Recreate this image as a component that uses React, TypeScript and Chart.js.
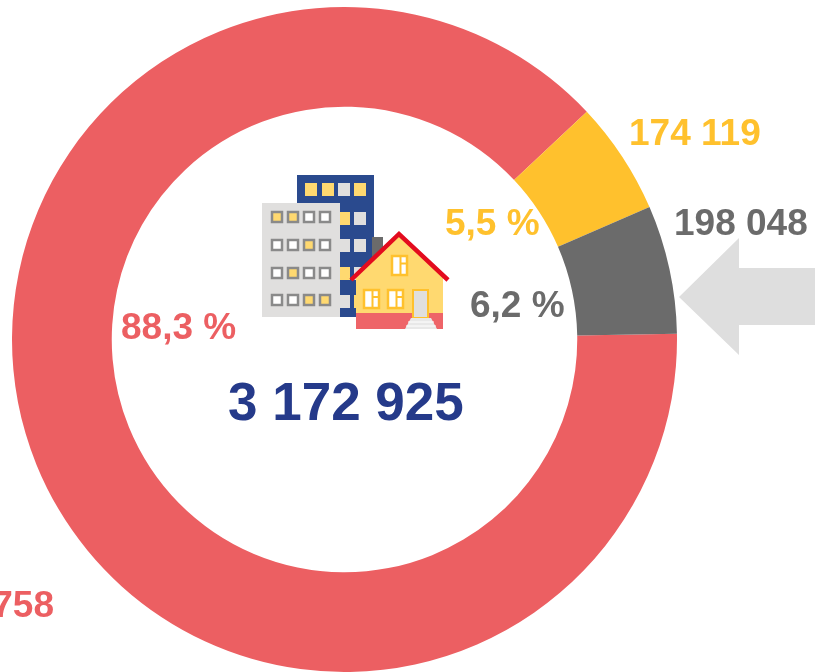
import React, { useEffect, useRef } from "react";
import { Chart, registerables } from "chart.js";

Chart.register(...registerables);

const categories = ["Red", "Yellow", "Grey"];
const values = [2800758, 174119, 198048];
const colors = ["#EC5F62", "#FFC12D", "#6B6B6B"];
const valueLabels = ["2 800 758", "174 119", "198 048"];
const percentLabels = ["88,3 %", "5,5 %", "6,2 %"];
const totalLabel = "3 172 925";
const navy = "#253A8A";
const FONT = '"Liberation Sans", Arial, sans-serif';

const labelPlugin = {
  id: "labels",
  afterDraw(chart: any) {
    const c = chart.ctx;
    c.save();
    c.textBaseline = "alphabetic";
    const put = (t: string, x: number, y: number, size: number, col: string, align = "left") => {
      c.font = `bold ${size}px ${FONT}`;
      c.fillStyle = col;
      c.textAlign = align;
      c.fillText(t, x, y);
    };
    put(valueLabels[1], 629, 145, 37, colors[1]);
    put(valueLabels[2], 674, 235, 37, colors[2]);
    put(valueLabels[0], 54, 617, 37, colors[0], "right");
    put(percentLabels[0], 121, 339, 37, colors[0]);
    put(percentLabels[1], 445, 235, 37, colors[1]);
    put(percentLabels[2], 470, 317, 37, colors[2]);
    put(totalLabel, 228, 420, 53, navy);
    c.restore();
  },
};

const blueCols = [305, 322, 338, 354];
const blueRows = [183, 212, 239, 267, 295];
const blueFill = [
  ["#FFD970", "#FFD970", "#E0DFDE", "#FFD970"],
  ["#FFD970", "#FFD970", "#FFD970", "#E0DFDE"],
  ["#FFD970", "#FFD970", "#E0DFDE", "#E0DFDE"],
  ["#FFD970", "#FFD970", "#FFD970", "#E0DFDE"],
  ["#FFD970", "#FFD970", "#E0DFDE", "#FFD970"],
];
const greyCols = [272, 288, 304, 320];
const greyRows = [212, 240, 268, 295];
const greyFill = [
  ["#FFD970", "#FFD970", "#fff", "#fff"],
  ["#fff", "#fff", "#FFD970", "#fff"],
  ["#fff", "#FFD970", "#fff", "#fff"],
  ["#fff", "#fff", "#FFD970", "#FFD970"],
];
const houseWindows = [
  [392, 256, 15, 19],
  [364, 290, 15, 18],
  [388, 290, 15, 18],
];

function Icon() {
  return (
    <svg width={815} height={672} style={{ position: "absolute", left: 0, top: 0, pointerEvents: "none" }}>
      <polygon points="679,297 739,238 739,268 815,268 815,325 739,325 739,355" fill="#DEDEDE" />
      <rect x={297} y={175} width={77} height={142} fill="#2A4A8E" />
      {blueRows.map((y, r) =>
        blueCols.map((x, i) => <rect key={`b${r}${i}`} x={x} y={y} width={12} height={13} fill={blueFill[r][i]} />)
      )}
      <rect x={262} y={203} width={78} height={114} fill="#E0DFDE" />
      {greyRows.map((y, r) =>
        greyCols.map((x, i) => (
          <rect key={`g${r}${i}`} x={x} y={y} width={10} height={10} fill={greyFill[r][i]} stroke="#8A8A8A" strokeWidth={2.5} />
        ))
      )}
      <rect x={372} y={237} width={11} height={30} fill="#6B6B6B" />
      <polygon points="399,234 444,278 443,278 443,313 356,313 356,278" fill="#FFD970" />
      <rect x={356} y={313} width={87} height={16} fill="#EE6468" />
      <polyline points="351,280 399,234 448,280" fill="none" stroke="#E30B1E" strokeWidth={4.5} />
      {houseWindows.map(([x, y, w, h], i) => (
        <g key={i}>
          <rect x={x} y={y} width={w} height={h} fill="#fff" stroke="#FFC12D" strokeWidth={2.5} />
          <line x1={x + w / 2 + 1} y1={y} x2={x + w / 2 + 1} y2={y + h} stroke="#FFC12D" strokeWidth={2} />
          <line x1={x + w / 2 + 1} y1={y + h / 2 - 2} x2={x + w} y2={y + h / 2 - 2} stroke="#FFC12D" strokeWidth={2} />
        </g>
      ))}
      <rect x={413} y={290} width={15} height={28} fill="#E0DFDE" stroke="#FFC12D" strokeWidth={2} />
      <polygon points="411,318 431,318 437,329 405,329" fill="#E8E8E8" />
      <line x1={408} y1={322} x2={434} y2={322} stroke="#fff" strokeWidth={1} />
      <line x1={406} y1={326} x2={436} y2={326} stroke="#fff" strokeWidth={1} />
    </svg>
  );
}

export default function App() {
  const ref = useRef<HTMLCanvasElement>(null);
  useEffect(() => {
    const chart = new Chart(ref.current!, {
      type: "doughnut",
      data: {
        labels: categories,
        datasets: [{ data: values, backgroundColor: colors, borderWidth: 0 }],
      },
      options: {
        animation: false,
        responsive: false,
        rotation: 89,
        cutout: "70%",
        layout: { padding: { left: 12, right: 138, top: 7, bottom: 0 } },
        plugins: { legend: { display: false }, tooltip: { enabled: false } },
      },
      plugins: [labelPlugin],
    } as any);
    return () => chart.destroy();
  }, []);
  return (
    <div style={{ position: "absolute", left: 0, top: 0, width: 815, height: 672, overflow: "hidden", background: "#fff" }}>
      <canvas ref={ref} width={815} height={672} style={{ position: "absolute", left: 0, top: 0 }} />
      <Icon />
    </div>
  );
}
